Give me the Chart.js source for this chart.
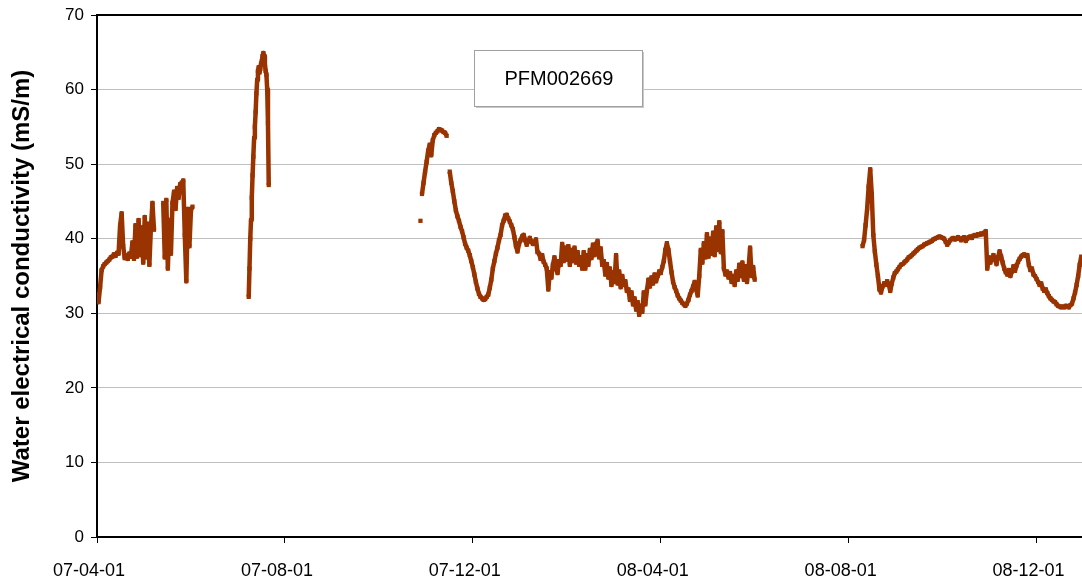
<!DOCTYPE html>
<html>
<head>
<meta charset="utf-8">
<script src="https://cdn.jsdelivr.net/npm/chart.js@4/dist/chart.umd.min.js"></script>
<style>
  html, body { margin: 0; padding: 0; background: #ffffff; }
  canvas { display: block; }
</style>
</head>
<body>
<canvas id="chart" width="1082" height="588"></canvas>
<script>
// x values are days counted from 2007-04-01
const tickDays = [0, 122, 244, 366, 488, 610];
const tickLabels = ['07-04-01', '07-08-01', '07-12-01', '08-04-01', '08-08-01', '08-12-01'];
const yTickValues = [0, 10, 20, 30, 40, 50, 60, 70];
const stationName = 'PFM002669';

// spring 2007 logging period (daily readings)
const seg1Start = 0, seg1Step = 1;
const seg1Values = [
  32.5, 31.5, 33.5, 35.8, 36.3, 36.6, 36.8, 37.0, 37.2, 37.5,
  37.6, 37.9, 37.7, 38.1, 38.0, 41.8, 43.4, 39.0, 37.4, 37.8,
  37.3, 38.0, 37.6, 39.5, 37.3, 41.8, 37.6, 42.5, 37.8, 41.5,
  36.8, 42.9, 37.5, 42.0, 36.5, 41.5, 44.8, 41.2, null, null,
  null, null, null, 44.8, 37.5, 45.2, 36.0, 42.5, 38.0, 44.8,
  46.3, 44.0, 46.8, 45.5, 47.3, 47.5, 47.8, 40.5, 34.3, 44.0,
  39.0, 43.8, 44.3
];

// short July 2007 episode (half-day readings)
const seg2Start = 98.5, seg2Step = 0.5;
const seg2Values = [
  32.2, 36.0, 40.0, 42.5, 45.5, 48.5, 51.0, 53.5, 55.0, 57.0,
  59.5, 61.3, 62.5, 63.0, 62.3, 62.8, 63.5, 63.8, 64.5, 64.9,
  64.5, 63.5, 62.5, 62.0, 60.0, 55.5, 47.2
];

// single reading before the autumn 2007 period
const seg3aStart = 210, seg3aStep = 1;
const seg3aValues = [42.4];

// autumn 2007 - spring 2008 period (daily readings)
const seg3Start = 211, seg3Step = 1;
const seg3Values = [
  46.0, 47.5, 49.0, 50.3, 51.8, 52.6, 51.2, 53.2, 53.9, 54.2,
  54.4, 54.7, 54.6, 54.5, 54.3, 54.2, 53.8, null, 49.0, 47.5,
  46.4, 45.0, 43.8, 43.0, 42.4, 41.6, 41.0, 40.2, 39.3, 38.8,
  38.4, 37.8, 37.0, 36.2, 35.2, 34.2, 33.3, 32.6, 32.2, 32.0,
  31.8, 31.9, 32.2, 32.5, 33.4, 34.5, 36.0, 37.0, 38.0, 38.8,
  39.8, 40.5, 41.8, 42.4, 43.1, 43.2, 42.7, 42.3, 41.8, 41.3,
  40.2, 39.0, 38.3, 39.3, 39.8, 40.3, 40.5, 39.8, 39.2, 39.8,
  40.1, 39.6, 39.3, 39.6, 39.9, 38.2, 38.0, 37.3, 37.8, 36.9,
  36.5, 36.0, 33.2, 35.5, 34.8, 36.5, 37.5, 36.0, 35.4, 37.0,
  36.5, 39.3, 37.0, 38.8, 37.2, 39.0, 36.5, 38.5, 37.0, 38.8,
  36.8, 38.2, 36.5, 37.5, 36.0, 38.2, 36.0, 37.8, 36.5, 38.5,
  37.4, 39.2, 37.8, 39.3, 39.7, 37.5, 38.7, 36.5, 37.0, 35.2,
  36.6, 34.8, 36.0, 33.8, 35.5, 34.2, 37.8, 34.0, 35.6, 33.5,
  35.0, 33.8, 34.3, 33.0, 33.2, 31.8, 32.8, 31.2, 32.0, 30.5,
  31.5, 29.8, 31.0, 30.2, 32.8, 31.2, 33.0, 34.5, 33.6, 34.8,
  34.0, 35.2, 34.3, 35.0, 35.6, 35.4, 36.2, 37.0, 38.5, 39.4,
  38.5, 37.0, 35.5, 34.2, 33.5, 33.0, 32.4, 32.0, 31.7, 31.4,
  31.2, 31.0, 31.3, 31.8, 32.5, 33.0, 33.6, 34.2, 33.2, 32.4,
  35.0, 38.5, 36.8, 39.4, 37.5, 40.6, 37.6, 40.0, 38.0, 40.8,
  37.8, 41.5, 38.5, 42.2, 38.2, 41.0, 36.0, 35.2, 35.6, 34.8,
  35.4, 34.2, 35.0, 33.8, 35.6, 34.5, 36.5, 35.0, 36.8, 34.5,
  36.3, 34.2, 36.0, 38.8, 35.0, 36.2, 34.5
];

// August - December 2008 period (daily readings)
const seg4Start = 497, seg4Step = 1;
const seg4Values = [
  39.0, 39.8, 41.8, 44.0, 47.0, 49.3, 46.0, 40.5, 38.3, 36.5,
  35.0, 33.2, 32.8, 33.6, 34.0, 33.8, 34.3, 33.9, 33.0, 34.0,
  34.8, 35.4, 35.6, 35.9, 36.2, 36.5, 36.6, 36.8, 37.0, 37.2,
  37.5, 37.6, 37.8, 38.0, 38.2, 38.4, 38.6, 38.8, 38.9, 39.0,
  39.2, 39.3, 39.4, 39.5, 39.6, 39.7, 39.9, 40.0, 40.1, 40.2,
  40.3, 40.2, 40.1, 40.0, 39.6, 39.2, 39.5, 39.8, 40.0, 40.1,
  39.9, 40.0, 40.2, 40.0, 39.8, 40.1, 40.2, 39.7, 40.0, 40.2,
  40.3, 40.1, 40.4, 40.5, 40.4, 40.6, 40.5, 40.7, 40.6, 40.8,
  41.0, 36.0, 37.5, 36.8, 37.3, 37.8, 37.2, 36.6, 37.5, 38.3,
  37.6, 36.8, 36.0, 35.5, 35.2, 35.8, 35.0, 35.6, 36.3, 35.7,
  36.4, 36.9, 37.3, 37.6, 37.8, 37.9, 37.7, 37.8, 36.5, 35.8,
  36.0, 35.2, 35.0, 34.6, 34.2, 33.8, 34.0, 33.3, 33.0, 33.2,
  32.7, 32.3, 32.0, 31.8, 31.6, 31.5, 31.2, 31.0, 30.9, 30.8,
  30.9, 30.8, 31.0, 30.9, 30.8, 31.1, 31.3, 32.0, 32.8, 33.8,
  35.0, 36.5, 37.6
];

const segments = [
  [seg1Start, seg1Step, seg1Values],
  [seg2Start, seg2Step, seg2Values],
  [seg3aStart, seg3aStep, seg3aValues],
  [seg3Start, seg3Step, seg3Values],
  [seg4Start, seg4Step, seg4Values]
];

const SERIES_COLOR = '#993300';
const FONT = "'Liberation Sans', Arial, Helvetica, sans-serif";

function toPoints(start, step, values) {
  return values.map((v, i) => ({ x: start + i * step, y: v }));
}

const datasets = segments.map(([start, step, values]) => ({
  data: toPoints(start, step, values),
  showLine: true,
  spanGaps: false,
  borderColor: SERIES_COLOR,
  backgroundColor: SERIES_COLOR,
  borderWidth: 4.5,
  borderJoinStyle: 'round',
  pointStyle: 'rect',
  pointRadius: 3,
  pointBorderWidth: 0,
  pointBackgroundColor: SERIES_COLOR,
  tension: 0
}));

// frame line along the top of the plot and the station label box
const decorations = {
  id: 'decorations',
  afterDraw(chart) {
    const { ctx, chartArea } = chart;
    ctx.save();
    ctx.strokeStyle = '#000000';
    ctx.lineWidth = 2;
    ctx.beginPath();
    ctx.moveTo(chartArea.left, chartArea.top);
    ctx.lineTo(chartArea.right, chartArea.top);
    ctx.stroke();

    const bx = 474, by = 50, bw = 168, bh = 56;
    ctx.fillStyle = '#c8c8c8';
    ctx.fillRect(bx + 2, by + 2, bw, bh);
    ctx.fillStyle = '#ffffff';
    ctx.fillRect(bx, by, bw, bh);
    ctx.strokeStyle = '#a0a0a0';
    ctx.lineWidth = 1;
    ctx.strokeRect(bx + 0.5, by + 0.5, bw, bh);
    ctx.fillStyle = '#000000';
    ctx.font = '20px ' + FONT;
    ctx.textAlign = 'center';
    ctx.textBaseline = 'middle';
    ctx.fillText(stationName, bx + bw / 2 + 1, by + bh / 2 + 1);
    ctx.restore();
  }
};

new Chart(document.getElementById('chart'), {
  type: 'scatter',
  data: { datasets },
  options: {
    responsive: false,
    animation: false,
    devicePixelRatio: 1,
    layout: { autoPadding: false, padding: { top: 15, right: 0, left: 0, bottom: 0 } },
    plugins: { legend: { display: false }, tooltip: { enabled: false } },
    scales: {
      x: {
        type: 'linear',
        min: 0,
        max: 639.5,
        afterBuildTicks(scale) { scale.ticks = tickDays.map(v => ({ value: v })); },
        afterFit(scale) {
          scale.height = 51;
          scale.paddingLeft = 0;
          scale.paddingRight = 0;
        },
        ticks: {
          autoSkip: false,
          maxRotation: 0,
          minRotation: 0,
          padding: 17,
          labelOffset: -8,
          color: '#000000',
          font: { family: FONT, size: 18 },
          callback(value) {
            const i = tickDays.indexOf(value);
            return i >= 0 ? tickLabels[i] : '';
          }
        },
        grid: {
          drawOnChartArea: false,
          drawTicks: true,
          tickLength: 6,
          tickColor: '#000000',
          tickWidth: 1
        },
        border: { display: true, color: '#000000', width: 2 }
      },
      y: {
        min: 0,
        max: 70,
        afterBuildTicks(scale) { scale.ticks = yTickValues.map(v => ({ value: v })); },
        afterFit(scale) {
          scale.width = 97;
          scale.paddingTop = 0;
          scale.paddingBottom = 0;
        },
        ticks: {
          padding: 7,
          color: '#000000',
          font: { family: FONT, size: 17 }
        },
        grid: {
          color: '#c0c0c0',
          lineWidth: 1,
          drawTicks: true,
          tickLength: 6,
          tickColor: '#000000',
          tickWidth: 1
        },
        border: { display: true, color: '#000000', width: 2 },
        title: {
          display: true,
          text: 'Water electrical conductivity (mS/m)',
          color: '#000000',
          font: { family: FONT, size: 24, weight: 'bold' },
          padding: { top: 8, bottom: 0 }
        }
      }
    }
  },
  plugins: [decorations]
});
</script>
</body>
</html>
